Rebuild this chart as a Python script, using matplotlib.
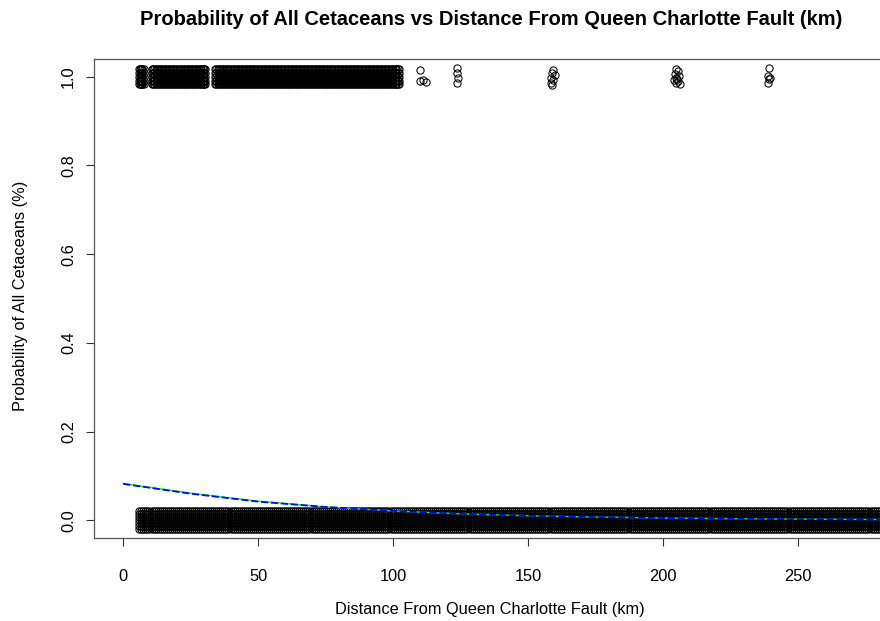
import matplotlib
matplotlib.use("Agg")
import matplotlib.pyplot as plt
import numpy as np

plt.rcParams['font.family'] = ['Liberation Sans', 'DejaVu Sans']

# distance (km) of sites where cetaceans were seen (y = 1)
presence_x = [5.8, 6.6, 10.5, 12.0, 13.5, 15.0, 16.5, 18.0, 19.5, 21.0, 22.5, 24.0,
              25.5, 27.0, 28.5, 29.4, 34.0, 35.5, 37.0, 38.5, 40.0, 41.5, 43.0, 44.5,
              46.0, 47.5, 49.0, 50.5, 52.0, 53.5, 55.0, 56.5, 58.0, 59.5, 61.0, 62.5,
              64.0, 65.5, 67.0, 68.5, 70.0, 71.5, 73.0, 74.5, 76.0, 77.5, 79.0, 80.5,
              82.0, 83.5, 85.0, 86.5, 88.0, 89.5, 91.0, 92.5, 94.0, 95.5, 97.0, 98.5,
              100.0, 101.2]
# jitter offsets used in the dense block (km, probability)
presence_dx = [0.0, 0.5, 1.0]
presence_dy = [-0.017, -0.0085, 0.0, 0.0085, 0.017]

# scattered presences far from the fault
outlier_x = [110.0, 109.8, 111.2, 112.3,
             123.7, 123.5, 123.9, 123.6,
             159.3, 158.8, 159.9, 158.5, 159.2, 158.3, 158.9,
             204.8, 205.3, 204.2, 205.8, 204.6, 205.1, 203.9, 205.6, 204.9, 206.2,
             239.3, 238.8, 239.6, 239.1, 238.9]
outlier_y = [1.015, 0.990, 0.992, 0.988,
             1.020, 1.008, 0.997, 0.986,
             1.016, 1.008, 1.004, 0.998, 0.992, 0.985, 0.982,
             1.018, 1.012, 1.006, 1.002, 0.998, 0.995, 0.993, 0.990, 0.986, 0.984,
             1.020, 1.002, 0.998, 0.995, 0.985]

# distance (km) of sites with no cetaceans (y = 0)
absence_x = [6, 9, 12, 15, 18, 21, 24, 27, 30, 33, 36, 39, 42, 45, 48, 51, 54, 57,
             60, 63, 66, 69, 72, 75, 78, 81, 84, 87, 90, 93, 96, 99, 102, 105, 108,
             111, 114, 117, 120, 123, 126, 129, 132, 135, 138, 141, 144, 147, 150,
             153, 156, 159, 162, 165, 168, 171, 174, 177, 180, 183, 186, 189, 192,
             195, 198, 201, 204, 207, 210, 213, 216, 219, 222, 225, 228, 231, 234,
             237, 240, 243, 246, 249, 252, 255, 258, 261, 264, 267, 270, 273, 276,
             279, 282]
absence_dx = [0.0, 0.75, 1.5, 2.25]
absence_dy = [-0.02, -0.013, -0.0065, 0.0, 0.0065, 0.013, 0.02]

# fitted probability curves
fit_dist = [0, 25, 50, 75, 100, 125, 150, 175, 200, 225, 250, 275, 282]
fit_green = [0.083, 0.061, 0.043, 0.030, 0.021, 0.0145, 0.0102, 0.0072, 0.0051,
             0.0036, 0.0025, 0.0018, 0.0017]
fit_blue = [0.082, 0.060, 0.042, 0.030, 0.021, 0.0146, 0.0103, 0.0071, 0.0050,
            0.0035, 0.0024, 0.0017, 0.0016]

xticks = [0, 50, 100, 150, 200, 250]
yticks = [0.0, 0.2, 0.4, 0.6, 0.8, 1.0]

fig = plt.figure(figsize=(8.8, 6.21), dpi=100)
ax = fig.add_axes([94 / 880, 1 - 538 / 621, 788 / 880, 479 / 621])

px = [x + dx for x in presence_x for dx in presence_dx for dy in presence_dy]
py = [1 + dy for x in presence_x for dx in presence_dx for dy in presence_dy]
ax_ = [x + dx for x in absence_x for dx in absence_dx for dy in absence_dy]
ay = [0 + dy for x in absence_x for dx in absence_dx for dy in absence_dy]

mk = dict(marker='o', linestyle='none', markersize=5.2, markerfacecolor='none',
          markeredgecolor='black', markeredgewidth=0.75)
ax.plot(ax_, ay, **mk)
ax.plot(px, py, **mk)
ax.plot(outlier_x, outlier_y, **mk)

ax.plot(fit_dist, fit_green, color='#00ff00', lw=1.0)
ax.plot(fit_dist, fit_blue, color='#0000ff', lw=1.3, dashes=(4, 1.5))

ax.set_xlim(-10.8, 281)
ax.set_ylim(-0.04, 1.04)
ax.set_xticks(xticks)
ax.set_xticklabels([str(t) for t in xticks])
ax.set_yticks(yticks)
ax.set_yticklabels([f"{t:.1f}" for t in yticks], rotation=90, va='center')
ax.tick_params(direction='out', length=6, width=0.8, labelsize=11.8, color='#333333')
ax.tick_params(axis='x', pad=16)
ax.tick_params(axis='y', pad=7)
for s in ax.spines.values():
    s.set_color('#555555')
    s.set_linewidth(0.9)

fig.text(491 / 880, 1 - 25 / 621, "Probability of All Cetaceans vs Distance From Queen Charlotte Fault (km)",
         ha='center', va='baseline', fontsize=14.5, fontweight='bold')
fig.text(490 / 880, 1 - 614 / 621, "Distance From Queen Charlotte Fault (km)",
         ha='center', va='baseline', fontsize=11.8)
fig.text(21 / 880, 1 - 296 / 621, "Probability of All Cetaceans (%)",
         ha='center', va='center', rotation=90, fontsize=11.8)

fig.savefig("out.png", dpi=100)
